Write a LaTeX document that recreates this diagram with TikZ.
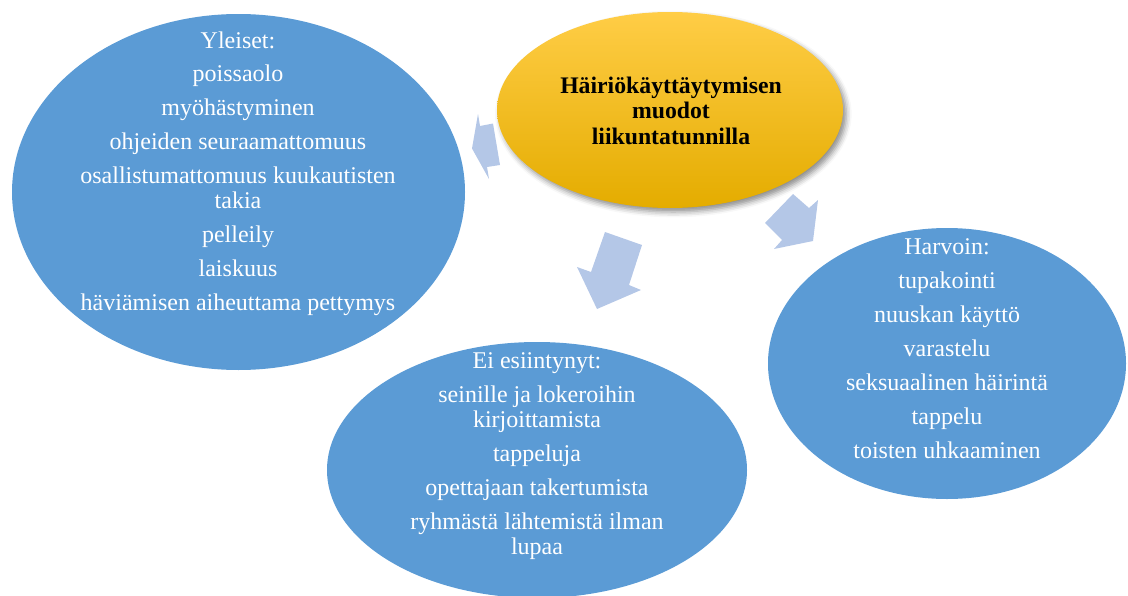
\documentclass[tikz,border=0pt]{standalone}
\usepackage{fontspec}
\setmainfont{Liberation Serif}
\usetikzlibrary{shapes.geometric,shadows.blur}
\definecolor{ellblue}{RGB}{91,155,213}
\definecolor{arrblue}{RGB}{180,199,231}
\definecolor{ytop}{RGB}{255,205,70}
\definecolor{ymid}{RGB}{255,192,0}
\definecolor{ybot}{RGB}{228,172,0}
\begin{document}
\begin{tikzpicture}[x=0.75pt,y=-0.75pt,
  blueell/.style={ellipse, fill=ellblue, inner sep=0pt},
  bodytxt/.style={align=center, text=white, font=\fontsize{18}{18.75}\selectfont},
  titletxt/.style={align=center, text=black, font=\bfseries\fontsize{17.8}{19.1}\selectfont},
  blockarrow/.style={fill=arrblue}]
\useasboundingbox (0,0) rectangle (1128,596);
\clip (0,0) rectangle (1128,596);
% outer ellipses
\node[blueell, minimum width=339.75pt, minimum height=267pt] (yleiset) at (238.5,192) {};
\node[blueell, minimum width=315pt, minimum height=192pt] (eiesi) at (537,470) {};
\node[blueell, minimum width=268.5pt, minimum height=203.25pt] (harvoin) at (947,363.5) {};
% central ellipse
\node[ellipse, inner sep=0pt, minimum width=259.5pt, minimum height=147pt,
      top color=ytop, middle color=ymid, bottom color=ybot,
      blur shadow={shadow xshift=2.5pt, shadow yshift=-3pt, shadow blur radius=4pt, shadow opacity=45}]
      (center) at (670,110) {};
% texts
\node[titletxt] (centertxt) at (671,110.5) {Häiriökäyttäytymisen\\ muodot\\ liikuntatunnilla};
\node[bodytxt] (yleisettxt) at (238,174) {Yleiset:\\[6pt] poissaolo\\[6.75pt] myöhästyminen\\[6.75pt] ohjeiden seuraamattomuus\\[6.75pt] osallistumattomuus kuukautisten\\ takia\\[6.75pt] pelleily\\[6.75pt] laiskuus\\[6.75pt] häviämisen aiheuttama pettymys};
\node[bodytxt] (eiesitxt) at (537,456) {Ei esiintynyt:\\[6.75pt] seinille ja lokeroihin\\ kirjoittamista\\[6.75pt] tappeluja\\[6.75pt] opettajaan takertumista\\[6.75pt] ryhmästä lähtemistä ilman\\ lupaa};
\node[bodytxt] (harvointxt) at (947,349) {Harvoin:\\[6.75pt] tupakointi\\[6.75pt] nuuskan käyttö\\[6.75pt] varastelu\\[6.75pt] seksuaalinen häirintä\\[6.75pt] tappelu\\[6.75pt] toisten uhkaaminen};
% block arrows
\fill[blockarrow] (472,148.5) -- (478,114) -- (480,126) -- (493,123.5) -- (500,165) -- (487,167) -- (489,179) -- cycle;
\fill[blockarrow] (605,232) -- (642,245) -- (629,285) -- (641,290) -- (597,309) -- (577,267) -- (591,272) -- cycle;
\fill[blockarrow] (793,194) -- (809,208) -- (818,200) -- (813,241) -- (774,249) -- (782,240) -- (765,223) -- cycle;
\end{tikzpicture}
\end{document}
